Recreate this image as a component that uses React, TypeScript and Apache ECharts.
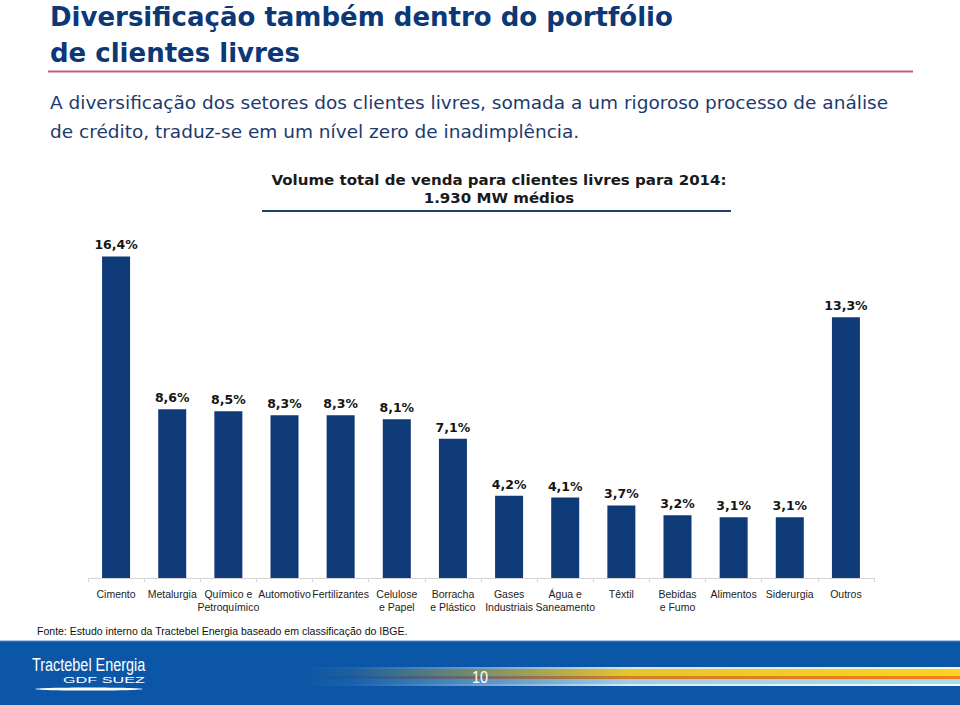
import React, { useEffect, useRef } from "react";
import * as echarts from "echarts";

const categories = [
  "Cimento",
  "Metalurgia",
  "Químico e\nPetroquímico",
  "Automotivo",
  "Fertilizantes",
  "Celulose\ne Papel",
  "Borracha\ne Plástico",
  "Gases\nIndustriais",
  "Água e\nSaneamento",
  "Têxtil",
  "Bebidas\ne Fumo",
  "Alimentos",
  "Siderurgia",
  "Outros",
];
const shares = [16.4, 8.6, 8.5, 8.3, 8.3, 8.1, 7.1, 4.2, 4.1, 3.7, 3.2, 3.1, 3.1, 13.3];

const titleLines = ["Diversificação também dentro do portfólio", "de clientes livres"];
const subtitleLines = [
  "A diversificação dos setores dos clientes livres, somada a um rigoroso processo de análise",
  "de crédito, traduz-se em um nível zero de inadimplência.",
];
const chartTitleLines = ["Volume total de venda para clientes livres para 2014:", "1.930 MW médios"];
const sourceNote = "Fonte: Estudo interno da Tractebel Energia baseado em classificação do IBGE.";
const pageNumber = "10";

const DEJAVU = '"DejaVu Sans", sans-serif';
const SANS = '"Liberation Sans", Arial, sans-serif';

function band(y: number, h: number, rgb: string) {
  return {
    type: "rect",
    shape: { x: 300, y, width: 660, height: h },
    silent: true,
    style: {
      fill: new echarts.graphic.LinearGradient(0, 0, 1, 0, [
        { offset: 0, color: `rgba(${rgb},0)` },
        { offset: 0.08, color: `rgba(${rgb},0.08)` },
        { offset: 0.5, color: `rgba(${rgb},0.9)` },
        { offset: 1, color: `rgba(${rgb},1)` },
      ]),
    },
  };
}

function txt(x: number, y: number, text: string, font: string, fill: string, opts: any = {}) {
  return {
    type: "text",
    x,
    y,
    scaleX: opts.scaleX ?? 1,
    silent: true,
    style: {
      text,
      font,
      fill,
      align: opts.align ?? "left",
      verticalAlign: "middle",
    },
  };
}

export default function App() {
  const ref = useRef<HTMLDivElement>(null);
  useEffect(() => {
    if (!ref.current) return;
    const chart = echarts.init(ref.current, null, { renderer: "svg" });
    const option = {
      animation: false,
      backgroundColor: "#ffffff",
      grid: { left: 88, right: 86, top: 225, bottom: 127, containLabel: false },
      xAxis: {
        type: "category",
        data: categories,
        boundaryGap: true,
        axisLine: { show: true, lineStyle: { color: "#d4d4d4", width: 1 } },
        axisTick: { show: true, alignWithLabel: false, length: 4, lineStyle: { color: "#d4d4d4" } },
        axisLabel: {
          interval: 0,
          color: "#222",
          fontFamily: SANS,
          fontSize: 10.5,
          lineHeight: 13,
          margin: 9,
        },
      },
      yAxis: { type: "value", min: 0, max: 18, show: false, splitLine: { show: false } },
      series: [
        {
          type: "bar",
          data: shares,
          barWidth: 28,
          itemStyle: { color: "#0f3a78" },
          label: {
            show: true,
            position: "top",
            distance: 5,
            color: "#151515",
            fontFamily: DEJAVU,
            fontWeight: "bold",
            fontSize: 12.5,
            formatter: (p: any) => p.value.toFixed(1).replace(".", ",") + "%",
          },
        },
      ],
      graphic: [
        txt(50, 17, titleLines[0], `bold 26px ${DEJAVU}`, "#0c3877"),
        txt(50, 53, titleLines[1], `bold 26px ${DEJAVU}`, "#0c3877"),
        {
          type: "line",
          shape: { x1: 48, y1: 71.5, x2: 913, y2: 71.5 },
          style: { stroke: "#c45a72", lineWidth: 2 },
        },
        txt(50, 102, subtitleLines[0], `18.5px ${DEJAVU}`, "#1c3a6e"),
        txt(50, 131, subtitleLines[1], `18.5px ${DEJAVU}`, "#1c3a6e"),
        txt(499, 180, chartTitleLines[0], `bold 14px ${DEJAVU}`, "#1a1a1a", { align: "center", scaleX: 1.075 }),
        txt(499, 198, chartTitleLines[1], `bold 14px ${DEJAVU}`, "#1a1a1a", { align: "center", scaleX: 1.075 }),
        {
          type: "line",
          shape: { x1: 262, y1: 211, x2: 731, y2: 211 },
          style: { stroke: "#1e3f70", lineWidth: 2 },
        },
        txt(37, 631, sourceNote, `11px ${SANS}`, "#111", { scaleX: 0.96 }),
        {
          type: "rect",
          shape: { x: 0, y: 641, width: 960, height: 64 },
          style: { fill: "#0b56a6" },
        },
        {
          type: "line",
          shape: { x1: 0, y1: 641, x2: 960, y2: 641 },
          style: { stroke: "#5b8fc8", lineWidth: 1 },
        },
        band(667, 2, "235,245,250"),
        band(669, 7, "255,210,30"),
        band(676, 3, "238,128,28"),
        band(679, 5, "175,220,232"),
        band(684, 2, "245,250,252"),
        txt(32, 665, "Tractebel Energia", `19px ${SANS}`, "#ffffff", { scaleX: 0.76 }),
        txt(63, 680, "GDF SUEZ", `9px ${SANS}`, "#ffffff", { scaleX: 1.8 }),
        {
          type: "ellipse",
          shape: { cx: 89, cy: 689, rx: 54, ry: 1.6 },
          style: { fill: "#ffffff" },
        },
        txt(480, 677, pageNumber, `17px ${SANS}`, "#ffffff", { align: "center", scaleX: 0.85 }),
      ],
    };
    chart.setOption(option as any);
    return () => chart.dispose();
  }, []);
  return (
    <div
      ref={ref}
      style={{ position: "fixed", left: 0, top: 0, width: 960, height: 705 }}
    />
  );
}
